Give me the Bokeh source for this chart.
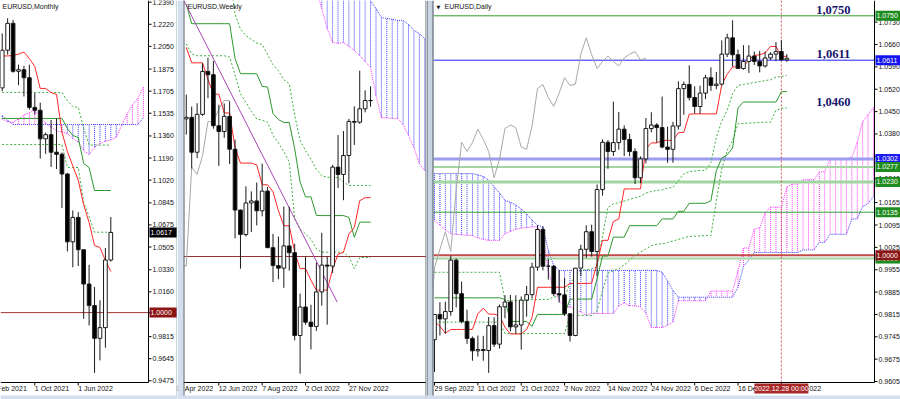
from bokeh.plotting import figure
from bokeh.layouts import row
from bokeh.models import Range1d, ColumnDataSource
from bokeh.core.properties import value
from bokeh.embed import file_html
from bokeh.resources import INLINE

# ======================= DATA =======================
# ---- Monthly (index 0 = Oct 2021) ----
m_index = list(range(-6, 15))
m_open = [1.1730, 1.2020, 1.2227, 1.1858, 1.1870, 1.1808, 1.1580, 1.1558, 1.1338, 1.1370, 1.1235,
          1.1219, 1.1067, 1.0545, 1.0733, 1.0484, 1.0220, 1.0054, 0.9802, 0.9884, 1.0405]
m_high = [1.2150, 1.2266, 1.2254, 1.1909, 1.1900, 1.1909, 1.1692, 1.1616, 1.1386, 1.1483, 1.1495,
          1.1233, 1.1076, 1.0787, 1.0774, 1.0486, 1.0368, 1.0198, 1.0094, 1.0497, 1.0736]
m_low = [1.1704, 1.1986, 1.1847, 1.1752, 1.1664, 1.1562, 1.1524, 1.1186, 1.1222, 1.1121, 1.1106,
         1.0806, 1.0471, 1.0349, 1.0359, 0.9952, 0.9901, 0.9536, 0.9632, 0.9730, 1.0393]
m_close = [1.2020, 1.2227, 1.1858, 1.1870, 1.1808, 1.1580, 1.1558, 1.1338, 1.1370, 1.1235, 1.1219,
           1.1067, 1.0545, 1.0733, 1.0484, 1.0220, 1.0054, 0.9802, 0.9884, 1.0405, 1.0617]
m_tenkan = [1.1976, 1.1976, 1.1980, 1.1990, 1.2006, 1.1956, 1.1895, 1.1726, 1.1726, 1.1694, 1.1680,
            1.1390, 1.1240, 1.1129, 1.1020, 1.0830, 1.0694, 1.0517, 1.0501, 1.0401, 1.0317]
m_kijun = [1.1495, 1.1495, 1.1495, 1.1495, 1.1495, 1.1495, 1.1495, 1.1495, 1.1495, 1.1495, 1.1495,
           1.1495, 1.1417, 1.1364, 1.1348, 1.1148, 1.1117, 1.0940, 1.0940, 1.0940, 1.0940]
m_dash_up = [1.1695, 1.1695, 1.1695, 1.1695, 1.1695, 1.1695, 1.1695, 1.1695, 1.1695, 1.1695, 1.1695,
             1.1695, 1.1630, 1.1587, 1.1580, 1.1420, 1.1290, 1.1290, 1.1290, 1.1290, 1.1290]
m_dash_lo = [1.1294, 1.1294, 1.1294, 1.1294, 1.1294, 1.1294, 1.1294, 1.1294, 1.1294, 1.1294, 1.1294,
             1.1294, 1.1117, 1.1117, 1.1117, 1.0850, 1.0740, 1.0619, 1.0619, 1.0619, 1.0619]
m_cloud_index = list(range(-6, 21))
m_span_a = [1.1490, 1.1470, 1.1466, 1.1490, 1.1520, 1.1540, 1.1556, 1.1505, 1.1460, 1.1428, 1.1400,
            1.1390, 1.1379, 1.1340, 1.1312, 1.1250, 1.1217, 1.1274, 1.1300, 1.1320, 1.1330, 1.1350,
            1.1441, 1.1530, 1.1600, 1.1650, 1.1736]
m_span_b = [1.1518, 1.1480, 1.1448, 1.1448, 1.1448, 1.1448, 1.1448, 1.1448, 1.1448, 1.1448, 1.1448,
            1.1448, 1.1448, 1.1448, 1.1448, 1.1448, 1.1448, 1.1448, 1.1448, 1.1448, 1.1448, 1.1448,
            1.1448, 1.1448, 1.1448, 1.1448, 1.1500]
m_price_ticks = [1.2390, 1.2220, 1.2050, 1.1875, 1.1705, 1.1535, 1.1360, 1.1190, 1.1020, 1.0845,
                 1.0675, 1.0505, 1.0330, 1.0160, 1.0000, 0.9815, 0.9645, 0.9475]
m_time_ticks = [-8, 0, 8]
m_time_labels = ["1 Feb 2021", "1 Oct 2021", "1 Jun 2022"]
m_level = 1.0000
m_last = 1.0617

# ---- Weekly (index 0 = week of 12 Jun 2022) ----
w_index = list(range(-6, 29))
w_open = [1.0545, 1.0551, 1.0413, 1.0563, 1.0733, 1.0720, 1.0518, 1.0495, 1.0555, 1.0425, 1.0184, 1.0087,
          1.0212, 1.0220, 1.0181, 1.0259, 1.0035, 0.9964, 0.9954, 1.0042, 1.0015, 0.9687, 0.9800, 0.9740,
          0.9723, 0.9860, 0.9966, 0.9962, 1.0354, 1.0325, 1.0400, 1.0535, 1.0532, 1.0585, 1.0618]
w_high = [1.0641, 1.0594, 1.0607, 1.0765, 1.0787, 1.0774, 1.0601, 1.0606, 1.0615, 1.0463, 1.0186, 1.0278,
          1.0258, 1.0293, 1.0368, 1.0275, 1.0090, 1.0079, 1.0198, 1.0197, 1.0050, 0.9853, 0.9999, 0.9809,
          0.9976, 1.0094, 1.0000, 1.0363, 1.0481, 1.0497, 1.0545, 1.0595, 1.0736, 1.0658, 1.0674]
w_low = [1.0483, 1.0349, 1.0390, 1.0557, 1.0627, 1.0506, 1.0359, 1.0470, 1.0366, 1.0072, 0.9952, 1.0079,
         1.0097, 1.0123, 1.0159, 1.0034, 0.9899, 0.9910, 0.9876, 0.9944, 0.9668, 0.9536, 0.9730, 0.9632,
         0.9705, 0.9805, 0.9730, 0.9935, 1.0271, 1.0223, 1.0290, 1.0442, 1.0525, 1.0571, 1.0593]
w_close = [1.0551, 1.0413, 1.0563, 1.0733, 1.0720, 1.0518, 1.0495, 1.0555, 1.0425, 1.0184, 1.0087, 1.0212,
           1.0220, 1.0181, 1.0259, 1.0035, 0.9964, 0.9954, 1.0042, 1.0015, 0.9687, 0.9800, 0.9740, 0.9723,
           0.9860, 0.9966, 0.9962, 1.0354, 1.0325, 1.0400, 1.0535, 1.0532, 1.0585, 1.0618, 1.0617]
w_tenkan = [1.0828, 1.0767, 1.0767, 1.0767, 1.0702, 1.0643, 1.0643, 1.0569, 1.0568, 1.0430, 1.0370, 1.0370,
            1.0370, 1.0363, 1.0284, 1.0284, 1.0257, 1.0181, 1.0122, 1.0122, 1.0018, 0.9952, 0.9952, 0.9906,
            0.9867, 0.9867, 0.9867, 0.9950, 1.0009, 1.0017, 1.0089, 1.0114, 1.0221, 1.0233, 1.0233]
w_kijun = [1.1000, 1.0922, 1.0922, 1.0922, 1.0922, 1.0922, 1.0922, 1.0922, 1.0922, 1.0784, 1.0724, 1.0724,
           1.0724, 1.0724, 1.0674, 1.0671, 1.0566, 1.0542, 1.0531, 1.0531, 1.0427, 1.0295, 1.0236, 1.0236,
           1.0163, 1.0162, 1.0162, 1.0162, 1.0162, 1.0162, 1.0155, 1.0076, 1.0136, 1.0136, 1.0136]
w_dash_up = [1.1100, 1.1100, 1.1100, 1.1100, 1.1100, 1.1100, 1.1100, 1.1100, 1.1100, 1.0960, 1.0900, 1.0875,
             1.0860, 1.0845, 1.0840, 1.0800, 1.0760, 1.0735, 1.0700, 1.0684, 1.0560, 1.0460, 1.0420, 1.0385,
             1.0345, 1.0320, 1.0314, 1.0314, 1.0312, 1.0295, 1.0281, 1.0281, 1.0281, 1.0281, 1.0281]
w_dash_lo = [1.0842, 1.0803, 1.0795, 1.0795, 1.0795, 1.0795, 1.0795, 1.0795, 1.0790, 1.0720, 1.0644, 1.0610,
             1.0575, 1.0545, 1.0540, 1.0532, 1.0480, 1.0450, 1.0415, 1.0374, 1.0150, 1.0110, 1.0089, 1.0069,
             1.0030, 1.0017, 1.0017, 1.0017, 1.0017, 1.0017, 1.0000, 0.9952, 0.9996, 0.9996, 0.9996]
w_chikou_index = list(range(-7, 3))
w_chikou = [0.9966, 0.9962, 1.0354, 1.0325, 1.0400, 1.0535, 1.0532, 1.0585, 1.0618, 1.0617]
w_cloud_index = list(range(18, 39))
w_span_a = [1.1053, 1.0982, 1.0903, 1.0848, 1.0844, 1.0848, 1.0832, 1.0816, 1.0796, 1.0772, 1.0749,
            1.0638, 1.0550, 1.0549, 1.0547, 1.0547, 1.0523, 1.0479, 1.0432, 1.0368, 1.0341]
w_span_b = [1.1200, 1.1200, 1.1200, 1.1200, 1.1200, 1.1200, 1.1200, 1.1200, 1.1200, 1.1200, 1.1013,
            1.0982, 1.0947, 1.0943, 1.0939, 1.0935, 1.0935, 1.0919, 1.0895, 1.0883, 1.0863]
w_trend_index = [-6.6, 21.85]
w_trend_price = [1.1020, 0.9819]
w_time_ticks = [-8, 0, 8, 16, 24]
w_time_labels = ["17 Apr 2022", "12 Jun 2022", "7 Aug 2022", "2 Oct 2022", "27 Nov 2022"]
w_level = 1.0000

# ---- Daily (index 0 = 29 Sep 2022) ----
d_index = list(range(0, 66))
d_open = [0.9736, 0.9815, 0.9801, 0.9824, 0.9985, 0.9880, 0.9793, 0.9740, 0.9701, 0.9705,
          0.9702, 0.9780, 0.9722, 0.9839, 0.9854, 0.9776, 0.9782, 0.9860, 0.9877, 0.9963,
          1.0081, 0.9966, 0.9966, 0.9880, 0.9876, 0.9817, 0.9749, 0.9960, 1.0019, 1.0074,
          1.0012, 1.0206, 1.0354, 1.0325, 1.0353, 1.0395, 1.0363, 1.0325, 1.0243, 1.0302,
          1.0397, 1.0408, 1.0400, 1.0339, 1.0332, 1.0405, 1.0522, 1.0535, 1.0494, 1.0466,
          1.0508, 1.0556, 1.0532, 1.0536, 1.0630, 1.0681, 1.0628, 1.0585, 1.0607, 1.0624,
          1.0607, 1.0593, 1.0618, 1.0630, 1.0638, 1.0612]
d_high = [0.9815, 0.9853, 0.9855, 0.9999, 0.9990, 0.9918, 0.9830, 0.9746, 0.9749, 0.9748,
          0.9807, 0.9806, 0.9846, 0.9875, 0.9876, 0.9875, 0.9871, 0.9904, 0.9977, 1.0094,
          1.0091, 0.9989, 0.9969, 0.9954, 0.9929, 0.9819, 0.9960, 1.0033, 1.0094, 1.0096,
          1.0222, 1.0363, 1.0361, 1.0481, 1.0449, 1.0407, 1.0381, 1.0335, 1.0310, 1.0430,
          1.0448, 1.0414, 1.0497, 1.0403, 1.0418, 1.0545, 1.0544, 1.0595, 1.0529, 1.0531,
          1.0565, 1.0589, 1.0574, 1.0673, 1.0694, 1.0736, 1.0644, 1.0658, 1.0658, 1.0638,
          1.0640, 1.0638, 1.0636, 1.0668, 1.0674, 1.0630]
d_low = [0.9635, 0.9749, 0.9755, 0.9811, 0.9837, 0.9787, 0.9723, 0.9670, 0.9683, 0.9670,
         0.9632, 0.9713, 0.9708, 0.9803, 0.9762, 0.9755, 0.9705, 0.9808, 0.9865, 0.9952,
         0.9953, 0.9924, 0.9872, 0.9852, 0.9810, 0.9730, 0.9747, 0.9935, 0.9992, 0.9996,
         0.9935, 1.0187, 1.0271, 1.0311, 1.0331, 1.0311, 1.0310, 1.0223, 1.0226, 1.0288,
         1.0385, 1.0353, 1.0335, 1.0290, 1.0290, 1.0394, 1.0440, 1.0485, 1.0444, 1.0443,
         1.0489, 1.0515, 1.0520, 1.0532, 1.0621, 1.0591, 1.0584, 1.0581, 1.0571, 1.0596,
         1.0573, 1.0588, 1.0612, 1.0608, 1.0612, 1.0606]
d_close = [0.9815, 0.9801, 0.9824, 0.9985, 0.9880, 0.9793, 0.9740, 0.9701, 0.9705, 0.9702,
           0.9780, 0.9722, 0.9839, 0.9854, 0.9776, 0.9782, 0.9860, 0.9877, 0.9963, 1.0081,
           0.9966, 0.9966, 0.9880, 0.9876, 0.9817, 0.9749, 0.9960, 1.0019, 1.0074, 1.0012,
           1.0206, 1.0354, 1.0325, 1.0353, 1.0395, 1.0363, 1.0325, 1.0243, 1.0302, 1.0397,
           1.0408, 1.0400, 1.0339, 1.0332, 1.0405, 1.0522, 1.0535, 1.0494, 1.0466, 1.0508,
           1.0556, 1.0532, 1.0536, 1.0630, 1.0681, 1.0628, 1.0585, 1.0607, 1.0624, 1.0607,
           1.0593, 1.0618, 1.0630, 1.0638, 1.0612, 1.0617]
d_tenkan = [0.9793, 0.9778, 0.9756, 0.9768, 0.9768, 0.9768, 0.9768, 0.9768, 0.9817, 0.9835,
            0.9816, 0.9816, 0.9811, 0.9775, 0.9754, 0.9754, 0.9754, 0.9768, 0.9805, 0.9900,
            0.9900, 0.9900, 0.9900, 0.9900, 0.9900, 0.9912, 0.9912, 0.9912, 0.9912, 0.9913,
            0.9976, 1.0047, 1.0047, 1.0106, 1.0114, 1.0208, 1.0208, 1.0208, 1.0208, 1.0334,
            1.0352, 1.0352, 1.0360, 1.0360, 1.0360, 1.0384, 1.0385, 1.0442, 1.0443, 1.0443,
            1.0443, 1.0443, 1.0443, 1.0534, 1.0567, 1.0590, 1.0590, 1.0590, 1.0613, 1.0626,
            1.0628, 1.0634, 1.0654, 1.0654, 1.0623, 1.0623]
d_kijun = [0.9867, 0.9867, 0.9867, 0.9867, 0.9867, 0.9867, 0.9867, 0.9867, 0.9867, 0.9867,
           0.9867, 0.9867, 0.9867, 0.9862, 0.9793, 0.9793, 0.9793, 0.9793, 0.9778, 0.9815,
           0.9815, 0.9815, 0.9815, 0.9815, 0.9815, 0.9863, 0.9863, 0.9863, 0.9863, 0.9863,
           0.9927, 0.9998, 0.9998, 1.0057, 1.0057, 1.0057, 1.0093, 1.0093, 1.0093, 1.0093,
           1.0093, 1.0093, 1.0114, 1.0114, 1.0114, 1.0138, 1.0138, 1.0163, 1.0163, 1.0163,
           1.0163, 1.0171, 1.0265, 1.0304, 1.0315, 1.0336, 1.0462, 1.0480, 1.0480, 1.0480,
           1.0480, 1.0480, 1.0480, 1.0480, 1.0512, 1.0513]
d_dash_up = [0.9947, 0.9947, 0.9947, 0.9947, 0.9947, 0.9947, 0.9947, 0.9947, 0.9947, 0.9947,
             0.9947, 0.9947, 0.9947, 0.9858, 0.9858, 0.9858, 0.9858, 0.9858, 0.9862, 0.9862,
             0.9862, 0.9862, 0.9870, 0.9870, 0.9870, 0.9911, 0.9935, 0.9953, 0.9955, 0.9958,
             0.9963, 1.0060, 1.0150, 1.0161, 1.0165, 1.0170, 1.0175, 1.0180, 1.0185, 1.0195,
             1.0200, 1.0203, 1.0205, 1.0210, 1.0213, 1.0234, 1.0255, 1.0262, 1.0264, 1.0266,
             1.0266, 1.0290, 1.0370, 1.0420, 1.0454, 1.0506, 1.0532, 1.0535, 1.0538, 1.0541,
             1.0544, 1.0547, 1.0550, 1.0558, 1.0560, 1.0563]
d_dash_lo = [0.9791, 0.9791, 0.9791, 0.9791, 0.9791, 0.9791, 0.9791, 0.9791, 0.9791, 0.9791,
             0.9791, 0.9791, 0.9791, 0.9755, 0.9755, 0.9755, 0.9755, 0.9755, 0.9755, 0.9755,
             0.9755, 0.9755, 0.9755, 0.9755, 0.9755, 0.9812, 0.9812, 0.9812, 0.9812, 0.9812,
             0.9827, 0.9890, 0.9945, 0.9952, 0.9958, 0.9970, 0.9985, 1.0000, 1.0010, 1.0020,
             1.0030, 1.0035, 1.0036, 1.0040, 1.0045, 1.0050, 1.0055, 1.0059, 1.0060, 1.0061,
             1.0062, 1.0062, 1.0172, 1.0270, 1.0329, 1.0360, 1.0412, 1.0413, 1.0414, 1.0415,
             1.0416, 1.0417, 1.0417, 1.0454, 1.0460, 1.0462]
d_chikou_index = list(range(-1, 40))
d_chikou = [0.9749, 0.9960, 1.0019, 1.0074, 1.0012, 1.0206, 1.0354, 1.0325, 1.0353, 1.0395, 1.0363,
            1.0325, 1.0243, 1.0302, 1.0397, 1.0408, 1.0400, 1.0339, 1.0332, 1.0405, 1.0522,
            1.0535, 1.0494, 1.0466, 1.0508, 1.0556, 1.0532, 1.0536, 1.0630, 1.0681, 1.0628,
            1.0585, 1.0607, 1.0624, 1.0607, 1.0593, 1.0618, 1.0630, 1.0638, 1.0612, 1.0617]
d_cloud_index = list(range(0, 82))
d_span_a = [1.0110, 1.0095, 1.0080, 1.0068, 1.0066, 1.0064, 1.0063, 1.0062, 1.0055, 1.0050,
            1.0047, 1.0047, 1.0047, 1.0068, 1.0075, 1.0082, 1.0085, 1.0087, 1.0089, 1.0090,
            1.0060, 0.9950, 0.9895, 0.9859, 0.9840, 0.9838, 0.9830, 0.9823, 0.9812, 0.9818,
            0.9818, 0.9818, 0.9818, 0.9818, 0.9842, 0.9851, 0.9842, 0.9842, 0.9839, 0.9819,
            0.9774, 0.9774, 0.9774, 0.9781, 0.9792, 0.9858, 0.9858, 0.9858, 0.9858, 0.9858,
            0.9858, 0.9888, 0.9888, 0.9888, 0.9888, 0.9888, 0.9952, 1.0023, 1.0023, 1.0082,
            1.0086, 1.0133, 1.0151, 1.0151, 1.0151, 1.0214, 1.0223, 1.0223, 1.0237, 1.0237,
            1.0237, 1.0261, 1.0262, 1.0303, 1.0303, 1.0303, 1.0303, 1.0307, 1.0354, 1.0419,
            1.0441, 1.0463]
d_span_b = [1.0256, 1.0256, 1.0256, 1.0256, 1.0256, 1.0256, 1.0256, 1.0256, 1.0252, 1.0247,
            1.0235, 1.0215, 1.0195, 1.0172, 1.0166, 1.0158, 1.0145, 1.0130, 1.0110, 1.0095,
            1.0088, 1.0015, 0.9968, 0.9953, 0.9953, 0.9953, 0.9953, 0.9953, 0.9953, 0.9953,
            0.9953, 0.9953, 0.9953, 0.9953, 0.9953, 0.9953, 0.9953, 0.9953, 0.9953, 0.9953,
            0.9953, 0.9953, 0.9947, 0.9920, 0.9890, 0.9869, 0.9869, 0.9869, 0.9869, 0.9869,
            0.9869, 0.9869, 0.9869, 0.9869, 0.9869, 0.9869, 0.9900, 0.9965, 0.9985, 1.0009,
            1.0009, 1.0009, 1.0009, 1.0009, 1.0009, 1.0009, 1.0009, 1.0009, 1.0017, 1.0017,
            1.0017, 1.0041, 1.0041, 1.0066, 1.0066, 1.0066, 1.0066, 1.0114, 1.0114, 1.0153,
            1.0163, 1.0184]
d_price_ticks = [1.0730, 1.0660, 1.0590, 1.0520, 1.0450, 1.0380, 1.0310, 1.0240, 1.0165, 1.0095,
                 1.0025, 0.9955, 0.9885, 0.9815, 0.9745, 0.9675, 0.9605]
d_time_ticks = [0, 8, 16, 24, 32, 40, 48, 56, 64]
d_time_labels = ["29 Sep 2022", "11 Oct 2022", "21 Oct 2022", "2 Nov 2022", "14 Nov 2022",
                 "24 Nov 2022", "6 Dec 2022", "16 Dec 2022", "28 Dec 2022"]
d_levels = [1.0750, 1.0611, 1.0302, 1.0277, 1.0230, 1.0135, 0.9990, 1.0000]
d_big_levels = [1.0750, 1.0611, 1.0460]
d_big_labels = ["1,0750", "1,0611", "1,0460"]
d_cursor = 64
d_cursor_label = "2022.12.28 00:00"

# ======================= STYLE / LAYOUT CONSTANTS =======================
FONT = "Liberation Sans"
FS = "7px"
C_TENKAN = "#ff2626"
C_KIJUN = "#2c982c"
C_DASH = "#3cad3c"
C_A = "#ff38ff"
C_B = "#3838ff"
C_CHIKOU = "#a8a8a8"
SEP = "#d3dfee"
HGT = 399

level_line_col = ["#2ea02e", "#2020ff", "#9c9cf2", "#a2d5a2", "#a2d5a2", "#36a236", "#a2d5a2", "#c44a4a"]
level_line_w = [1, 1, 3, 2, 3, 1, 2, 2]
level_box_col = ["#1e8c1e", "#1414f0", "#1c1cf0", "#1e8c1e", "#1e8c1e", "#1e8c1e", "#1e8c1e", "#8b1414"]


class Panel:
    """Figure whose frame covers the whole canvas; px_x / px_y are pixels per data unit."""

    def __init__(self, width, x_left, px_x, y_top, px_y, plot_w, left_pad=0):
        self.px_x, self.px_y = px_x, px_y
        self.x0 = x_left
        self.x1 = x_left + width / px_x
        self.y1 = y_top
        self.y0 = y_top - HGT / px_y
        self.xa = x_left + left_pad / px_x            # left edge of chart area
        self.xb = x_left + plot_w / px_x               # right edge of chart area (price axis)
        self.yb = y_top - 382 / px_y                   # bottom edge of chart area (time axis)
        p = figure(width=width, height=HGT, x_range=Range1d(self.x0, self.x1),
                   y_range=Range1d(self.y0, self.y1), output_backend="svg",
                   toolbar_location=None, tools="", x_axis_location=None, y_axis_location=None,
                   min_border_left=0, min_border_right=0, min_border_top=0, min_border_bottom=0)
        p.grid.visible = False
        p.outline_line_color = None
        p.background_fill_color = "white"
        p.border_fill_color = "white"
        self.p = p

    def dx(self, px):
        return px / self.px_x

    def dy(self, px):
        return px / self.px_y

    def text(self, x, y, s, align="left", baseline="middle", color="#111111", size=FS,
             font=FONT, style="normal"):
        self.p.text(x=x, y=y, text=s, text_font=value(font), text_font_size=value(size),
                    text_font_style=style, text_color=color, text_align=align,
                    text_baseline=baseline)

    def hline(self, y, color, width=1, dash="solid"):
        self.p.segment(x0=[self.xa], y0=[y], x1=[self.xb], y1=[y], line_color=color,
                       line_width=width, line_dash=dash)

    def price_axis(self, ticks):
        n = len(ticks)
        self.p.segment(x0=[self.xb], y0=[self.yb], x1=[self.xb], y1=[self.y1], line_color="#000000")
        self.p.segment(x0=[self.xb] * n, y0=ticks, x1=[self.xb + self.dx(3)] * n, y1=ticks,
                       line_color="#000000")
        self.text([self.xb + self.dx(4)] * n, ticks, ["%.4f" % t for t in ticks])

    def time_axis(self, ticks, labels):
        n = len(ticks)
        self.p.segment(x0=[self.xa], y0=[self.yb], x1=[self.xb], y1=[self.yb], line_color="#000000")
        self.p.segment(x0=ticks, y0=[self.yb] * n, x1=ticks, y1=[self.yb - self.dy(3)] * n,
                       line_color="#000000")
        self.text(ticks, [self.yb - self.dy(2.5)] * n, labels, baseline="top")

    def price_box(self, y, s, bg):
        h = self.dy(5)
        self.p.quad(left=[self.xb + self.dx(1)], right=[self.x1], top=[y + h], bottom=[y - h],
                    fill_color=bg, line_color=None)
        self.text([self.xb + self.dx(2)], [y], [s], color="#ffffff")

    def title(self, s, off):
        self.text([self.xa + self.dx(off)], [self.y1 - self.dy(2)], [s], baseline="top")

    def candles(self, idx, o, h, l, c, w=0.68):
        src = ColumnDataSource(dict(
            x=idx, h=h, l=l,
            top=[max(a, b) for a, b in zip(o, c)],
            bot=[min(a, b) for a, b in zip(o, c)],
            fill=["#ffffff" if cc >= oo else "#000000" for oo, cc in zip(o, c)]))
        self.p.segment(x0="x", y0="l", x1="x", y1="h", source=src, line_color="#1a1a1a", line_width=1)
        self.p.vbar(x="x", top="top", bottom="bot", width=w, fill_color="fill",
                    line_color="#1a1a1a", line_width=1, source=src)

    def cloud(self, idx, a, b):
        cols = [C_A if aa >= bb else C_B for aa, bb in zip(a, b)]
        self.p.segment(x0=idx, y0=a, x1=idx, y1=b, line_color=cols, line_dash="1 1", line_width=1)
        self.p.line(idx, a, line_color=C_A, line_dash="1 1", line_width=1)
        self.p.line(idx, b, line_color=C_B, line_dash="1 1", line_width=1)

    def band(self, xl, xr, color):
        self.p.quad(left=[xl], right=[xr], top=[self.y1], bottom=[self.y0], fill_color=color,
                    line_color=None)

    def vline(self, x, color, y0=None, y1=None, dash="solid"):
        self.p.segment(x0=[x], y0=[self.y0 if y0 is None else y0], x1=[x],
                       y1=[self.y1 if y1 is None else y1], line_color=color, line_dash=dash)

    def bottom_strip(self):
        self.p.quad(left=[self.x0], right=[self.x1], top=[self.y1 - self.dy(395)],
                    bottom=[self.y0], fill_color=SEP, line_color=None)


# ======================= MONTHLY (page x 0..177) =======================
M = Panel(177, -6.317, 5.43, 1.2403, 1298.8, 148)
M.cloud(m_cloud_index, m_span_a, m_span_b)
M.hline(m_level, "#a83636")
M.p.line(m_index, m_dash_up, line_color=C_DASH, line_dash="2 2")
M.p.line(m_index, m_dash_lo, line_color=C_DASH, line_dash="2 2")
M.p.line(m_index, m_kijun, line_color=C_KIJUN)
M.p.line(m_index, m_tenkan, line_color=C_TENKAN)
M.candles(m_index, m_open, m_high, m_low, m_close)
M.price_axis(m_price_ticks)
M.time_axis(m_time_ticks, m_time_labels)
M.price_box(m_last, "%.4f" % m_last, "#000000")
M.price_box(m_level, "%.4f" % m_level, "#8b1414")
M.title(["EURUSD,Monthly"], 2)
M.vline(M.x1 - M.dx(0.5), "#9aa6b6")
M.bottom_strip()

# ======================= WEEKLY (page x 177..426) =======================
W = Panel(249, -7.620, 5.42, 1.10139, 2525.0, 249, left_pad=6)
W.cloud(w_cloud_index, w_span_a, w_span_b)
W.hline(w_level, "#963434")
W.p.line(w_chikou_index, w_chikou, line_color=C_CHIKOU)
W.p.line(w_index, w_dash_up, line_color=C_DASH, line_dash="2 2")
W.p.line(w_index, w_dash_lo, line_color=C_DASH, line_dash="2 2")
W.p.line(w_index, w_kijun, line_color=C_KIJUN)
W.p.line(w_index, w_tenkan, line_color=C_TENKAN)
W.p.line(w_trend_index, w_trend_price, line_color="#a846b4")
W.candles(w_index, w_open, w_high, w_low, w_close)
W.time_axis(w_time_ticks, w_time_labels)
W.title(["EURUSD,Weekly"], 4)
W.band(W.x0, W.xa, SEP)
W.vline(W.xa + W.dx(0.5), "#505a66")
W.vline(W.x1 - W.dx(0.5), "#505a66")
W.bottom_strip()

# ======================= DAILY (page x 426..900) =======================
D = Panel(474, -1.476, 5.42, 1.07979, 3194.0, 448, left_pad=7)
D.cloud(d_cloud_index, d_span_a, d_span_b)
for lv, lc, lw in zip(d_levels, level_line_col, level_line_w):
    D.hline(lv, lc, lw)
D.vline(d_cursor, "#d05050", y0=D.yb, dash="2 2")
D.p.line(d_chikou_index, d_chikou, line_color=C_CHIKOU)
D.p.line(d_index, d_dash_up, line_color=C_DASH, line_dash="2 2")
D.p.line(d_index, d_dash_lo, line_color=C_DASH, line_dash="2 2")
D.p.line(d_index, d_kijun, line_color=C_KIJUN)
D.p.line(d_index, d_tenkan, line_color=C_TENKAN)
D.candles(d_index, d_open, d_high, d_low, d_close)
D.price_axis(d_price_ticks)
D.time_axis(d_time_ticks, d_time_labels)
for lv, bg in zip(d_levels, level_box_col):
    D.price_box(lv, "%.4f" % lv, bg)
D.text([73.6] * 3, [v + D.dy(2) for v in d_big_levels], d_big_labels, align="center",
       baseline="bottom", color="#16166a", size="12.5px", font="Liberation Serif", style="bold")
D.p.quad(left=[d_cursor - D.dx(27)], right=[d_cursor + D.dx(27)], top=[D.yb - D.dy(1)],
         bottom=[D.yb - D.dy(11)], fill_color="#a82828", line_color=None)
D.text([d_cursor], [D.yb - D.dy(6)], [d_cursor_label], align="center", color="#ffffff")
D.text([D.xa + D.dx(3)], [D.y1 - D.dy(3)], ["\u25BC"], baseline="top", size="5px", font="DejaVu Sans")
D.title(["EURUSD,Daily"], 11)
D.band(D.x0, D.xa, "#c9d4e2")
D.vline(D.x0 + D.dx(0.5), "#505a66")
D.vline(D.xa - D.dx(0.5), "#505a66")
D.bottom_strip()

layout = row(M.p, W.p, D.p, spacing=0)
open("out.html", "w").write(file_html(layout, INLINE))
